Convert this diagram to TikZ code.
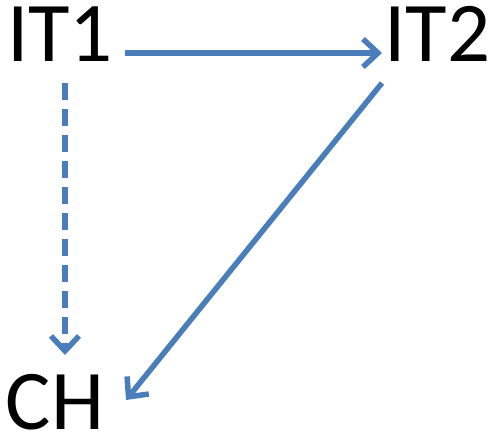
\documentclass[tikz,border=0pt]{standalone}
\usepackage{fontspec}
\setmainfont{Carlito}
\usetikzlibrary{arrows.meta,calc}
\definecolor{linkblue}{HTML}{4A7EBB}
\tikzset{
  lbl/.style={inner sep=0pt, anchor=base, text height=54pt, text depth=0pt, font=\fontsize{85}{85}\selectfont},
  conn/.style={draw=linkblue, line width=5.5pt, -{Straight Barb[length=15pt,width=28pt,line width=5.5pt]}},
  dashconn/.style={conn, dash pattern=on 17pt off 9pt}
}
\begin{document}
\begin{tikzpicture}[x=1pt,y=-1pt]
\useasboundingbox (0,0) rectangle (490,435);
\node[lbl] (IT1) at (60,62) {IT1};
\node[lbl] (IT2) at (437.5,62) {IT2};
\node[lbl] (CH) at (55,430) {CH};
\draw[conn] ($(IT1.base)+(65,-9)$) -- ($(IT2.base)+(-55.5,-9)$);
\draw[dashconn] ($(IT1.base)+(5,21)$) -- ($(CH.base)+(10,-75)$);
\draw[conn] ($(IT2.base)+(-55.5,21)$) -- ($(CH.base)+(71,-30)$);
\end{tikzpicture}
\end{document}
